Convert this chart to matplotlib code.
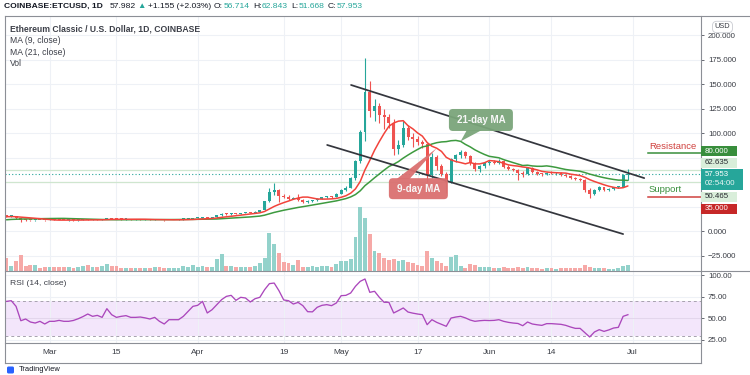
import numpy as np
import pandas as pd
import matplotlib
matplotlib.use("Agg")
import matplotlib.pyplot as plt
import matplotlib.dates as mdates
import matplotlib.transforms as mtransforms
from matplotlib.patches import Rectangle, FancyBboxPatch, Polygon
from matplotlib.lines import Line2D

plt.rcParams['font.family'] = ['Liberation Sans', 'DejaVu Sans']

# ---------------- data (ETC/USD daily) ----------------
start_date = "2021-02-20"

opens = [
    15.3, 15.0, 15.1, 12.8, 11.2, 11.0, 10.8, 11.2, 11.0,
    10.9, 11.6, 11.4, 11.1, 11.0, 11.2, 10.8, 11.4, 11.6, 11.5,
    11.8, 11.6, 12.0, 13.2, 12.5, 12.0, 11.8, 11.9, 11.6, 11.8,
    11.5, 11.7, 11.5, 11.6, 11.2, 10.9, 11.3, 11.4, 11.8, 12.3,
    12.6, 12.9, 13.3, 13.8, 13.1, 13.8, 15.9, 17.8, 17.0, 18.2,
    17.5, 18.5, 18.6, 18.3, 19.8, 21.2, 30.5, 40.0, 41.5, 36.0,
    35.0, 33.0, 34.0, 31.5, 30.0, 30.5, 31.5, 33.0, 34.5, 35.5,
    34.8, 38.0, 42.0, 44.0, 54.0, 71.0, 101.0, 142.0, 122.0, 128.0,
    118.0, 116.0, 110.0, 84.0, 88.0, 105.0, 96.0, 93.5, 90.5, 88.5,
    57.0, 76.0, 66.0, 58.5, 50.5, 73.0, 78.0, 81.0, 77.0, 69.0,
    63.5, 66.0, 69.0, 70.5, 69.5, 71.5, 65.5, 63.0, 62.0, 59.0,
    58.0, 64.0, 60.0, 58.5, 58.0, 59.5, 59.0, 59.3, 57.5, 56.0,
    54.5, 53.0, 52.5, 42.0, 38.0, 42.0, 44.5, 42.0, 43.0, 44.5,
    45.0, 56.714]

highs = [
    15.6, 15.4, 15.2, 13.0, 12.2, 11.6, 11.4, 11.5, 11.4,
    11.8, 11.9, 11.6, 11.4, 11.3, 11.4, 11.5, 11.8, 11.9, 11.9,
    12.0, 12.2, 13.6, 13.4, 12.7, 12.3, 12.1, 12.0, 12.0, 11.9,
    11.9, 11.8, 11.8, 11.7, 11.4, 11.4, 11.6, 11.9, 12.4, 12.8,
    13.1, 13.4, 14.0, 13.9, 14.0, 16.5, 18.5, 18.3, 18.6, 18.4,
    18.8, 19.0, 19.1, 20.2, 21.5, 31.0, 44.0, 49.5, 42.5, 37.5,
    36.5, 35.0, 38.0, 32.5, 31.5, 32.0, 33.5, 35.0, 36.0, 36.0,
    38.5, 43.0, 46.0, 55.5, 72.0, 103.0, 176.5, 153.0, 135.0, 131.0,
    124.0, 119.0, 114.0, 93.0, 112.0, 108.0, 100.0, 97.0, 93.0, 90.0,
    80.0, 78.0, 68.0, 60.0, 74.0, 79.0, 83.0, 82.0, 78.0, 70.0,
    67.5, 70.0, 72.5, 72.0, 73.0, 72.0, 67.0, 64.5, 63.0, 61.0,
    65.0, 65.0, 61.0, 59.5, 60.5, 61.0, 60.0, 59.8, 58.5, 57.0,
    55.5, 54.0, 53.0, 43.5, 43.0, 45.5, 45.0, 44.0, 45.0, 46.0,
    58.0, 62.843]

lows = [
    14.5, 14.6, 12.0, 9.5, 10.6, 10.5, 10.4, 10.8, 10.6,
    10.8, 11.2, 11.0, 10.8, 10.7, 10.6, 10.7, 11.2, 11.3, 11.3,
    11.4, 11.5, 11.9, 12.2, 11.8, 11.6, 11.5, 11.4, 11.4, 11.3,
    11.4, 11.3, 11.2, 11.0, 10.7, 10.8, 11.1, 11.3, 11.7, 12.1,
    12.4, 12.6, 13.1, 12.8, 13.0, 13.6, 15.6, 16.6, 16.8, 17.2,
    17.4, 18.0, 17.9, 18.1, 19.5, 21.0, 29.5, 37.0, 29.5, 33.5,
    32.0, 32.5, 30.5, 28.5, 28.8, 29.8, 31.0, 32.5, 33.5, 33.8,
    34.5, 37.5, 41.0, 43.5, 52.0, 69.0, 92.0, 116.0, 112.0, 110.0,
    104.0, 105.0, 78.0, 79.0, 86.0, 93.0, 86.0, 88.0, 85.0, 50.0,
    54.0, 62.0, 56.0, 39.0, 49.0, 70.0, 75.0, 74.0, 67.0, 61.0,
    60.5, 64.5, 67.0, 68.0, 68.5, 64.0, 62.0, 61.0, 52.0, 55.0,
    57.0, 59.0, 57.0, 56.5, 57.0, 58.0, 57.5, 56.5, 55.0, 53.5,
    52.0, 51.0, 40.0, 33.5, 37.0, 41.0, 41.0, 40.5, 42.0, 43.5,
    44.5, 51.668]

closes = [
    15.0, 15.1, 12.8, 11.2, 11.0, 10.8, 11.2, 11.0, 10.9,
    11.6, 11.4, 11.1, 11.0, 11.2, 10.8, 11.4, 11.6, 11.5, 11.8,
    11.6, 12.0, 13.2, 12.5, 12.0, 11.8, 11.9, 11.6, 11.8, 11.5,
    11.7, 11.5, 11.6, 11.2, 10.9, 11.3, 11.4, 11.8, 12.3, 12.6,
    12.9, 13.3, 13.8, 13.1, 13.8, 15.9, 17.8, 17.0, 18.2, 17.5,
    18.5, 18.6, 18.3, 19.8, 21.2, 30.5, 40.0, 41.5, 36.0, 35.0,
    33.0, 34.0, 31.5, 30.0, 30.5, 31.5, 33.0, 34.5, 35.5, 34.8,
    38.0, 42.0, 44.0, 54.0, 71.0, 101.0, 142.0, 122.0, 128.0, 118.0,
    116.0, 110.0, 84.0, 88.0, 105.0, 96.0, 93.5, 90.5, 88.5, 57.0,
    76.0, 66.0, 58.5, 50.5, 73.0, 78.0, 81.0, 77.0, 69.0, 63.5,
    66.0, 69.0, 70.5, 69.5, 71.5, 65.5, 63.0, 62.0, 59.0, 58.0,
    64.0, 60.0, 58.5, 58.0, 59.5, 59.0, 59.3, 57.5, 56.0, 54.5,
    53.0, 52.5, 42.0, 38.0, 42.0, 44.5, 42.0, 43.0, 44.5, 45.0,
    56.827, 57.953]

# closes just before the visible window (needed for the moving averages)
prior_closes = [7.6, 7.9, 8.3, 8.6, 8.9, 9.2, 9.1, 9.4, 9.8, 10.2,
                10.1, 10.6, 13.8, 14.2, 14.5, 14.6, 14.3, 14.8, 15.1, 14.9]

volumes = [
    12.7, 5, 10, 16, 5, 6, 6, 3, 4,
    4, 4, 4, 4, 4, 3, 4, 5, 6, 4,
    4, 5, 7, 5, 5, 3, 3, 3, 3, 3,
    3, 3, 4, 4, 3, 3, 3, 3, 5, 4,
    6, 4, 5, 4, 4, 11.7, 16.7, 5, 5, 4,
    4, 4, 4, 5, 7.7, 12.7, 38, 26.7, 18, 9,
    7.7, 6, 11, 4.3, 4, 5, 4, 5, 5, 4,
    7, 10, 10, 12, 34, 64, 53, 37, 20, 18,
    13, 10.7, 11.7, 10, 11, 9, 8, 6, 5.5, 20,
    13, 10, 8, 5, 13.7, 15.7, 5, 3, 7, 6,
    4, 4, 4, 3, 3, 4, 3, 3, 4, 3,
    4, 3, 3, 2.5, 3, 3, 2.5, 3, 3, 3,
    3, 3, 5.7, 4, 3, 3, 3, 2.5, 2.5, 3,
    5, 6]

rsi_values = [
    69.7, 70.5, 63.9, 47.2, 49.2, 45.7, 44.5, 46.5, 43.4,
    46.5, 46.5, 47.6, 46.5, 46.5, 47.5, 49.5, 52.0, 55.0, 52.3,
    53.4, 51.1, 61.2, 54.2, 51.1, 52.3, 53.1, 51.1, 51.1, 51.5,
    50.5, 49.2, 51.1, 46.5, 43.4, 48.4, 48.4, 48.4, 52.3, 58.1,
    63.9, 65.1, 69.7, 56.2, 60.0, 65.9, 71.7, 75.5, 76.7, 70.9,
    74.4, 73.6, 69.0, 72.8, 74.4, 83.3, 90.3, 91.0, 82.1, 71.3,
    70.5, 66.6, 68.5, 64.7, 57.7, 57.5, 62.8, 65.1, 65.9, 64.7,
    67.8, 76.3, 76.7, 79.4, 87.2, 93.0, 95.7, 80.2, 81.4, 74.4,
    68.6, 68.6, 56.2, 59.0, 62.0, 57.3, 56.0, 55.0, 54.2, 42.6,
    48.4, 45.3, 43.0, 40.7, 50.3, 51.5, 52.3, 50.5, 48.0, 46.5,
    47.2, 47.6, 47.4, 47.6, 48.4, 46.5, 45.3, 44.5, 44.0, 41.4,
    45.7, 43.4, 42.5, 41.8, 43.8, 43.8, 43.4, 43.0, 41.8, 39.9,
    38.3, 38.3, 33.3, 28.3, 34.1, 36.8, 34.8, 36.5, 38.7, 39.5,
    52.3, 54.2]

price_ticks = [-25, 0, 100, 125, 150, 175, 200]
price_grid = [-25, 0, 25, 50, 75, 100, 125, 150, 175, 200]
rsi_ticks = [25, 50, 75, 100]
date_ticks = ["2021-03-01", "2021-03-15", "2021-04-01", "2021-04-19", "2021-05-01",
              "2021-05-17", "2021-06-01", "2021-06-14", "2021-07-01"]
date_tick_labels = ["Mar", "15", "Apr", "19", "May", "17", "Jun", "14", "Jul"]
x_range = ["2021-02-19 16:30", "2021-07-15 07:00"]

resistance_level = 80.0
support_level = 35.0
level_start = "2021-07-04 05:00"
band_levels = [62.635, 50.465]
last_price = 57.953
countdown = "02:54:00"

upper_channel = [("2021-05-03 02:00", 149.0), ("2021-07-03 10:00", 54.0)]
lower_channel = [("2021-04-28 02:00", 87.8), ("2021-06-29 00:00", -3.1)]

# callouts: (text, box centre (date, price), tail tip date, colour)
callout21 = ("21-day MA", ("2021-05-30 06:00", 113.3), "2021-05-26", "#7aa57a")
callout9 = ("9-day MA", ("2021-05-17 04:00", 43.2), "2021-05-21", "#da7070")

header = [("COINBASE:ETCUSD, 1D", "#131722", "bold", 7),
          ("57.982", "#131722", "normal", 2),
          ("\u25B2", "#26a69a", "normal", 2),
          ("+1.155 (+2.03%)", "#131722", "normal", 3),
          ("O:", "#131722", "normal", 0.5), ("56.714", "#26a69a", "normal", 3),
          ("H:", "#131722", "normal", 0.5), ("62.843", "#26a69a", "normal", 3),
          ("L:", "#131722", "normal", 0.5), ("51.668", "#26a69a", "normal", 3),
          ("C:", "#131722", "normal", 0.5), ("57.953", "#26a69a", "normal", 0)]
legend_lines = ["Ethereum Classic / U.S. Dollar, 1D, COINBASE", "MA (9, close)",
                "MA (21, close)", "Vol"]

# ---------------- figure ----------------
W, H = 750, 375
fig = plt.figure(figsize=(W / 100, H / 100), dpi=100)
fig.patch.set_facecolor("white")
PX = mtransforms.Affine2D().scale(1.0 / W, -1.0 / H).translate(0, 1) + fig.transFigure


def rect(x0, y0, x1, y1):
    return [x0 / W, 1 - y1 / H, (x1 - x0) / W, (y1 - y0) / H]


LFT, RGT = 5, 701
TOP, SEP, XB, BOT = 16, 271, 343, 363
ax = fig.add_axes(rect(LFT, TOP, RGT, SEP))
axr = fig.add_axes(rect(LFT, SEP, RGT, XB), sharex=ax)

UP, DN = "#26a69a", "#ef5350"
VUP, VDN = "#93d2cb", "#f6a9a7"
GRID = "#eef1f6"
FRAME = "#8c8f96"
TXT = "#3c3f48"

dates = pd.date_range(start_date, periods=len(closes), freq="D")
xd = mdates.date2num(dates)
o, h, l, c = (np.array(v, dtype=float) for v in (opens, highs, lows, closes))
up = c >= o
ccol = np.where(up, UP, DN)
vcol = np.where(up, VUP, VDN)

xlim = mdates.date2num(pd.to_datetime(x_range))
tick_x = mdates.date2num(pd.to_datetime(date_ticks))

ax.set_xlim(*xlim)
ax.set_ylim(-40.8, 219.4)
axr.set_ylim(21.3, 105)

# grid
for t in tick_x:
    ax.axvline(t, color=GRID, lw=0.8, zorder=0.2)
    axr.axvline(t, color=GRID, lw=0.8, zorder=0.2)
for p in price_grid:
    ax.axhline(p, color=GRID, lw=0.8, zorder=0.2)
for r in rsi_ticks:
    axr.axhline(r, color=GRID, lw=0.8, zorder=0.2)

# volume (bottom of main pane)
vol_top = max(volumes) * 4.0
vtr = mtransforms.blended_transform_factory(
    ax.transData, mtransforms.Affine2D().scale(1, 1.0 / vol_top) + ax.transAxes)
ax.bar(xd, volumes, width=0.8, bottom=0, color=vcol, linewidth=0, transform=vtr, zorder=1)

# horizontal reference lines
for lv in band_levels:
    ax.axhline(lv, color="#cfe6cf", lw=0.9, zorder=1.5)
ax.axhline(last_price, color=UP, lw=0.8, ls=(0, (1, 2)), zorder=1.6)

# moving averages
all_c = pd.Series(prior_closes + closes, dtype=float)
ma9 = all_c.rolling(9).mean().values[len(prior_closes):]
ma21 = all_c.rolling(21).mean().values[len(prior_closes):]

# candles
ax.vlines(xd, l, h, colors=ccol, lw=0.8, zorder=4)
body = np.maximum(np.abs(c - o), 1.0)
ax.bar(xd, body, bottom=np.minimum(o, c), width=0.62, color=ccol, linewidth=0, zorder=5)

ax.plot(xd, ma21, color="#3d9a3f", lw=1.1, zorder=6, solid_capstyle="round")
ax.plot(xd, ma9, color="#f2433b", lw=1.1, zorder=6.1, solid_capstyle="round")

# channel
for ch in (upper_channel, lower_channel):
    cx = mdates.date2num(pd.to_datetime([p[0] for p in ch]))
    ax.plot(cx, [p[1] for p in ch], color="#34363d", lw=1.25, zorder=7, solid_capstyle="round")

# resistance / support
ls_x = mdates.date2num(pd.Timestamp(level_start))
ax.plot([ls_x, xlim[1]], [resistance_level] * 2, color="#388e3c", lw=1.1, zorder=7)
ax.plot([ls_x, xlim[1]], [support_level] * 2, color="#d0413e", lw=1.1, zorder=7)
ax.text(ls_x + 0.2, resistance_level, "Resistance", color="#d0413e", fontsize=6.8,
        va="center", ha="left", zorder=8,
        transform=mtransforms.offset_copy(ax.transData, fig=fig, y=6, units="dots"))
ax.text(ls_x + 0.2, support_level, "Support", color="#388e3c", fontsize=6.8,
        va="center", ha="left", zorder=8,
        transform=mtransforms.offset_copy(ax.transData, fig=fig, y=7.5, units="dots"))

# RSI
axr.axhspan(30, 70, color="#f3e6fb", zorder=0.1, lw=0)
axr.axhline(50, color="#e3d6ec", lw=0.7, zorder=0.3)
for lv in (70, 30):
    axr.axhline(lv, color="#a7a2ae", lw=0.7, ls=(0, (3, 3)), zorder=0.4)
axr.plot(xd, rsi_values, color="#ab47bc", lw=0.95, zorder=3)

# axes styling
for a in (ax, axr):
    for s in a.spines.values():
        s.set_visible(False)
    a.set_facecolor("none")
    a.yaxis.tick_right()

ax.set_yticks(price_ticks)
ax.set_yticklabels([f"{v:.3f}".replace("-", "\u2212") for v in price_ticks])
ax.tick_params(axis="y", length=2.5, width=0.6, color="#50535e", labelsize=5.7,
               labelcolor="#3a3d45", pad=2.5)
ax.tick_params(axis="x", bottom=False, labelbottom=False)

axr.set_yticks(rsi_ticks)
axr.set_yticklabels([f"{v:.2f}" for v in rsi_ticks])
axr.tick_params(axis="y", length=2.5, width=0.6, color="#50535e", labelsize=5.7,
                labelcolor="#3a3d45", pad=2.5)
axr.set_xticks(tick_x)
axr.set_xticklabels(date_tick_labels)
axr.tick_params(axis="x", length=0, labelsize=6, labelcolor="#3a3d45", pad=4.5)
ax.set_xlim(*xlim)


def ypx(price):
    return H - ax.transData.transform((xlim[0], price))[1]


def xpx(xnum, price):
    return ax.transData.transform((xnum, price))[0]


# frame lines
def seg(x0, y0, x1, y1, color=FRAME, lw=0.8, z=4):
    fig.add_artist(Line2D([x0, x1], [y0, y1], transform=PX, color=color, lw=lw, zorder=z))


seg(LFT, TOP, W, TOP)
seg(LFT, SEP, W, SEP)
seg(LFT, XB, RGT, XB)
seg(LFT, BOT, RGT, BOT)
seg(LFT, TOP, LFT, BOT)
seg(RGT, TOP, RGT, BOT)

# right axis price labels
axis_labels = [(resistance_level, "#388e3c", "white", -1.5),
               (band_levels[0], "#d9eeda", "#26282e", -7),
               (band_levels[1], "#d9eeda", "#26282e", 15),
               (support_level, "#c62828", "white", 12)]
for price, fc, tc, dy in axis_labels:
    yc = ypx(price) + dy
    fig.add_artist(Rectangle((RGT, yc - 5), 36, 10, transform=PX, fc=fc, ec="none", zorder=5))
    fig.text(705, yc, f"{price:.3f}", transform=PX, fontsize=5.7, color=tc,
             va="center", ha="left", zorder=6)
yc = ypx(last_price)
fig.add_artist(Rectangle((RGT, yc - 5.5), 42, 21, transform=PX, fc=UP, ec="none", zorder=5))
fig.text(705, yc, f"{last_price:.3f}", transform=PX, fontsize=5.7, color="white",
         va="center", ha="left", zorder=6)
fig.text(705, yc + 9.5, countdown, transform=PX, fontsize=5.7, color="#e8f6f4",
         va="center", ha="left", zorder=6)

fig.text(722.5, 27, "USD", transform=PX, fontsize=5.3, ha="center", va="center",
         color="#3a3d45", zorder=7,
         bbox=dict(boxstyle="round,pad=0.3,rounding_size=0.6", fc="white", ec="#c9cbd1", lw=0.6))

# callouts
for text, (cd, cp), tipd, colr in (callout21, callout9):
    cxn = mdates.date2num(pd.Timestamp(cd))
    cxp, cyp = xpx(cxn, cp), ypx(cp)
    tipn = mdates.date2num(pd.Timestamp(tipd))
    idx = int(np.argmin(np.abs(xd - tipn)))
    tip_price = (ma21 if text.startswith("21") else ma9)[idx]
    tx, ty = xpx(tipn, tip_price), ypx(tip_price)
    bw, bh = (64, 22) if text.startswith("21") else (59, 21)
    if text.startswith("21"):
        base = [(cxp - 14, cyp + bh / 2 - 1), (cxp + 1, cyp + bh / 2 - 1)]
    else:
        base = [(cxp - 22, cyp - bh / 2 + 1), (cxp - 9, cyp - bh / 2 + 1)]
    fig.add_artist(Polygon(base + [(tx, ty)], closed=True, transform=PX, fc=colr,
                           ec="none", zorder=8, alpha=0.95))
    fig.add_artist(FancyBboxPatch((cxp - bw / 2, cyp - bh / 2), bw, bh,
                                  boxstyle="round,pad=0,rounding_size=4", transform=PX,
                                  fc=colr, ec="none", zorder=8, alpha=0.95))
    fig.text(cxp, cyp, text, transform=PX, fontsize=7, fontweight="bold",
             color="#f7f7f7", ha="center", va="center", zorder=9)

# header
renderer = fig.canvas.get_renderer()
hx = 3.5
for s, colr, wt, gap in header:
    t = fig.text(hx, 6.5, s, transform=PX, fontsize=6.1, color=colr, fontweight=wt,
                 ha="left", va="center")
    hx += t.get_window_extent(renderer=renderer).width + gap

# legends
for i, s in enumerate(legend_lines):
    fig.text(10, 28.7 + i * 11.7, s, transform=PX, fontsize=6.2, color=TXT,
             ha="left", va="center", fontweight="bold" if i == 0 else "normal")
fig.text(10, 283.7, "RSI (14, close)", transform=PX, fontsize=6.1, color=TXT,
         ha="left", va="center")

# TradingView mark
fig.add_artist(FancyBboxPatch((7, 366.5), 7, 7, boxstyle="round,pad=0,rounding_size=1.5",
                              transform=PX, fc="#2962ff", ec="none"))
fig.text(19, 366, "TradingView", transform=PX, fontsize=5.4, color="#131722",
         ha="left", va="top")

fig.savefig("out.png", dpi=100, facecolor="white")
